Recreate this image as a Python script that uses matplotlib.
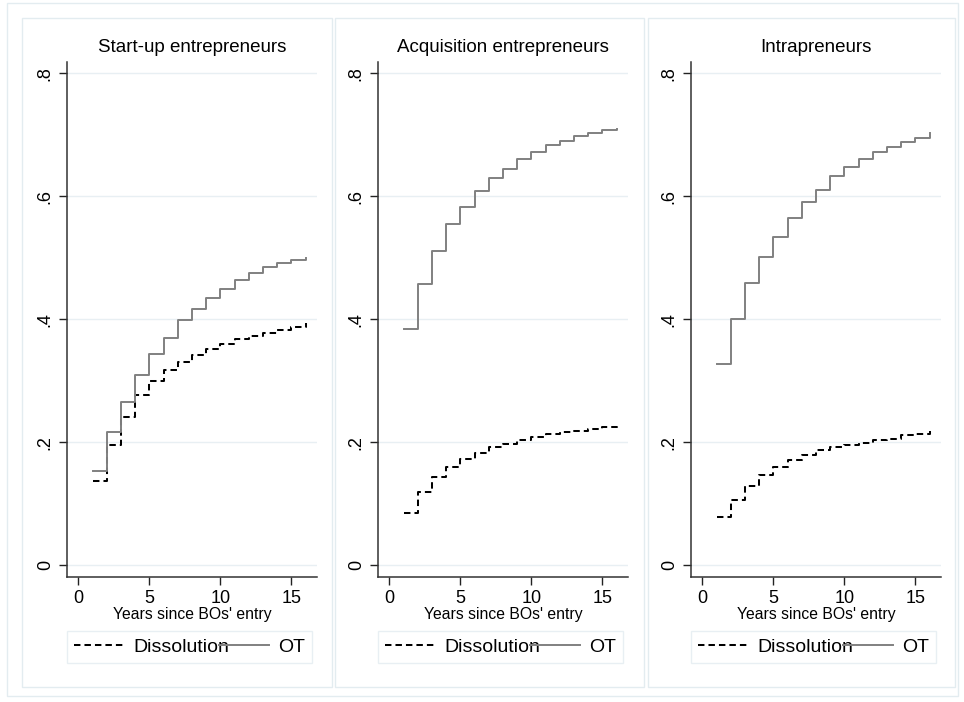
import matplotlib
matplotlib.use("Agg")
import matplotlib.pyplot as plt
from matplotlib.patches import Rectangle

plt.rcParams["font.family"] = ["Liberation Sans", "DejaVu Sans"]

years = list(range(1, 17))

titles = ["Start-up entrepreneurs", "Acquisition entrepreneurs", "Intrapreneurs"]

dissolution = [
    [0.137, 0.196, 0.241, 0.276, 0.299, 0.317, 0.330, 0.342,
     0.352, 0.359, 0.367, 0.372, 0.378, 0.383, 0.387, 0.393],
    [0.085, 0.119, 0.143, 0.160, 0.172, 0.182, 0.192, 0.197,
     0.204, 0.209, 0.214, 0.216, 0.219, 0.222, 0.224, 0.226],
    [0.078, 0.106, 0.129, 0.146, 0.160, 0.171, 0.180, 0.187,
     0.193, 0.196, 0.199, 0.204, 0.206, 0.211, 0.214, 0.218],
]

ot = [
    [0.154, 0.216, 0.266, 0.309, 0.343, 0.370, 0.398, 0.416,
     0.434, 0.449, 0.463, 0.475, 0.485, 0.492, 0.496, 0.500],
    [0.384, 0.458, 0.511, 0.554, 0.583, 0.609, 0.629, 0.644,
     0.660, 0.672, 0.683, 0.690, 0.698, 0.702, 0.707, 0.709],
    [0.327, 0.400, 0.459, 0.501, 0.534, 0.564, 0.590, 0.610,
     0.632, 0.647, 0.660, 0.671, 0.680, 0.688, 0.695, 0.702],
]

yticks = [0, 0.2, 0.4, 0.6, 0.8]
ytick_labels = ["0", ".2", ".4", ".6", ".8"]
xticks = [0, 5, 10, 15]

W, H = 964, 702
fig = plt.figure(figsize=(W / 100, H / 100), dpi=100)
fig.patch.set_facecolor("white")

frame_col = "#e3ecf0"
grid_col = "#e8eff3"


def px_rect(x0, y0, x1, y1, **kw):
    # rectangle given in pixel coords, origin top-left
    return Rectangle((x0 / W, 1 - y1 / H), (x1 - x0) / W, (y1 - y0) / H,
                     transform=fig.transFigure, fill=False, **kw)


fig.patches.append(px_rect(7, 3, 958, 696, edgecolor=frame_col, lw=1))
panel_boxes = [(22, 18, 332, 687), (335, 18, 644, 687), (648, 18, 955, 687)]
for b in panel_boxes:
    fig.patches.append(px_rect(*b, edgecolor=frame_col, lw=1))

axes_left = [67, 378, 691]
for i in range(3):
    ax = fig.add_axes([axes_left[i] / W, 1 - 577 / H, 250 / W, 515 / H])
    ax.step(years, dissolution[i], where="post", color="black", lw=1.45,
            dashes=(3.2, 2.0), label="Dissolution")
    ax.step(years, ot[i], where="post", color="#808080", lw=1.4, label="OT")

    ax.set_xlim(-0.8, 16.8)
    ax.set_ylim(-0.019, 0.818)
    ax.set_xticks(xticks)
    ax.set_yticks(yticks)
    ax.set_yticklabels(ytick_labels, rotation=90, va="center")
    ax.tick_params(axis="both", length=6, width=1, color="#222222",
                   labelsize=13, pad=3.5)
    ax.grid(axis="y", color=grid_col, lw=1)
    ax.set_axisbelow(True)
    for s in ["top", "right"]:
        ax.spines[s].set_visible(False)
    for s in ["left", "bottom"]:
        ax.spines[s].set_color("#333333")
        ax.spines[s].set_linewidth(1.1)

    ax.set_title(titles[i], fontsize=13.5, pad=7)
    ax.set_xlabel("Years since BOs' entry", fontsize=11.3, labelpad=0)

    leg = ax.legend(loc="center", bbox_to_anchor=(0.49, -0.136), ncol=2,
                    fontsize=14, handlelength=2.6, handletextpad=0.45,
                    columnspacing=-0.55, frameon=True, fancybox=False,
                    borderpad=0.35, borderaxespad=0)
    leg.get_frame().set_edgecolor(frame_col)
    leg.get_frame().set_linewidth(1)

fig.savefig("out.png", dpi=100)
